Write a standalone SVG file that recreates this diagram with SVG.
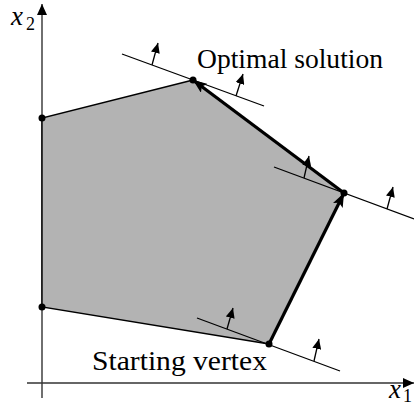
<svg xmlns="http://www.w3.org/2000/svg" width="414" height="407" viewBox="0 0 414 407">
<style>
.axis{stroke:#333;stroke-width:1.4;fill:none}
.edge{stroke:#000;stroke-width:1.4;fill:none}
.thick{stroke:#000;stroke-width:3.2;fill:none}
.tan{stroke:#000;stroke-width:1.3;fill:none}
.nrm{stroke:#000;stroke-width:1.3;fill:none}
.lbl{font-family:"Liberation Serif","Times New Roman",serif;font-size:28px;fill:#000}
.math{font-family:"Liberation Serif","Times New Roman",serif;font-style:italic;font-size:27px;fill:#000}
.sub{font-family:"Liberation Serif","Times New Roman",serif;font-size:18px;fill:#000}
.dot{fill:#000}
</style>
<defs>
<marker id="axh" markerUnits="userSpaceOnUse" markerWidth="12" markerHeight="10" refX="11" refY="5" orient="auto">
<path d="M0,0 L11,5 L0,10 z" fill="#000"/>
</marker>
<marker id="big" markerUnits="userSpaceOnUse" markerWidth="15" markerHeight="11" refX="14" refY="5.5" orient="auto">
<path d="M0,0 L14,5.5 L0,11 L3,5.5 z" fill="#000"/>
</marker>
<marker id="sm" markerUnits="userSpaceOnUse" markerWidth="11" markerHeight="9" refX="10" refY="4.5" orient="auto">
<path d="M0,0 L10,4.5 L0,9 z" fill="#000"/>
</marker>
</defs>
<rect width="414" height="407" fill="#fff"/>
<g id="axes">
<line class="axis" x1="42" y1="398" x2="42" y2="4" marker-end="url(#axh)"/>
<line class="axis" x1="27" y1="383" x2="414" y2="383" marker-end="url(#axh)"/>
<text class="math" x="11" y="25">x</text><text class="sub" x="26" y="30">2</text>
<text class="math" x="389" y="398">x</text><text class="sub" x="403" y="402">1</text>
</g>
<g id="region">
<polygon points="42,118 193,80 344,193 269,344 42,307" fill="#b3b3b3" stroke="none"/>
</g>
<g id="connectors">
<polyline class="edge" points="193,80 42,118 42,307 269,344"/>
<line class="tan" x1="122" y1="54" x2="264" y2="106"/>
<line class="tan" x1="274" y1="167" x2="414" y2="219"/>
<line class="tan" x1="197" y1="318" x2="340" y2="371"/>
<line class="nrm" x1="152" y1="65" x2="158" y2="43" marker-end="url(#sm)"/>
<line class="nrm" x1="236" y1="96" x2="243" y2="74" marker-end="url(#sm)"/>
<line class="nrm" x1="304" y1="178" x2="309" y2="156" marker-end="url(#sm)"/>
<line class="nrm" x1="387" y1="209" x2="393" y2="187" marker-end="url(#sm)"/>
<line class="nrm" x1="227" y1="329" x2="233" y2="308" marker-end="url(#sm)"/>
<line class="nrm" x1="314" y1="361" x2="319" y2="339" marker-end="url(#sm)"/>
<line class="thick" x1="269" y1="344" x2="344" y2="193" marker-end="url(#big)"/>
<line class="thick" x1="344" y1="193" x2="193" y2="80" marker-end="url(#big)"/>
</g>
<g id="v1"><circle class="dot" cx="42" cy="118" r="3.5"/></g>
<g id="v2"><circle class="dot" cx="193" cy="80" r="3.5"/></g>
<g id="v3"><circle class="dot" cx="344" cy="193" r="3.5"/></g>
<g id="v4"><circle class="dot" cx="269" cy="344" r="3.5"/></g>
<g id="v5"><circle class="dot" cx="42" cy="307" r="3.5"/></g>
<g id="labels">
<text class="lbl" x="197" y="68" textLength="186" lengthAdjust="spacingAndGlyphs">Optimal solution</text>
<text class="lbl" x="92" y="370" textLength="175" lengthAdjust="spacingAndGlyphs">Starting vertex</text>
</g>
</svg>
